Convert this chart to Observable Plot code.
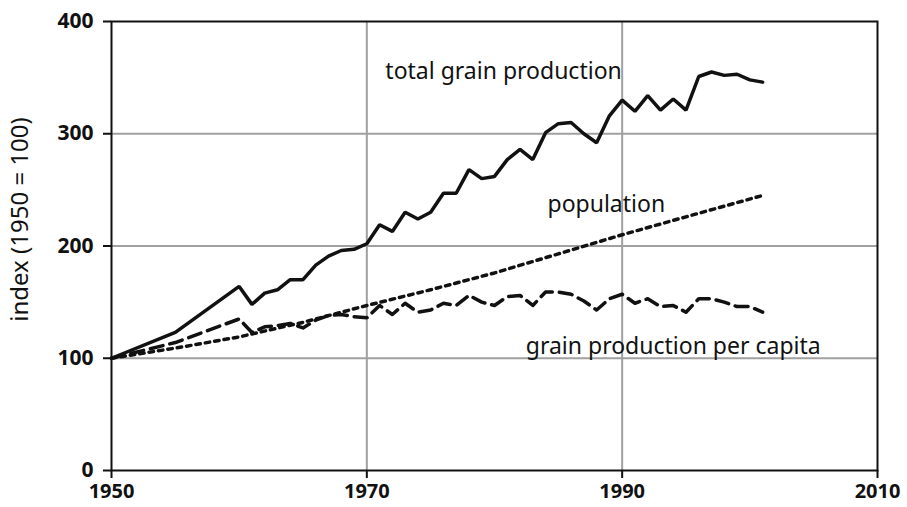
<!DOCTYPE html>
<html>
<head>
<meta charset="utf-8">
<script src="https://cdn.jsdelivr.net/npm/d3@7"></script>
<script src="https://cdn.jsdelivr.net/npm/@observablehq/plot@0.6"></script>
<style>
  html, body { margin: 0; padding: 0; background: #fff; }
  #chart svg { display: block; }
</style>
</head>
<body>
<div id="chart"></div>
<script>
// ---- data ----
const grainYears = [1950, 1955, 1960, 1961, 1962, 1963, 1964, 1965, 1966, 1967, 1968, 1969, 1970,
  1971, 1972, 1973, 1974, 1975, 1976, 1977, 1978, 1979, 1980, 1981, 1982, 1983, 1984, 1985,
  1986, 1987, 1988, 1989, 1990, 1991, 1992, 1993, 1994, 1995, 1996, 1997, 1998, 1999, 2000, 2001];
const totalGrain = [100, 123, 164, 148, 158, 161, 170, 170, 183, 191, 196, 197, 202,
  219, 213, 230, 224, 230, 247, 247, 268, 260, 262, 277, 286, 277, 301, 309,
  310, 300, 292, 316, 330, 320, 334, 321, 331, 321, 351, 355, 352, 353, 348, 346];
const perCapita = [100, 114, 135, 123, 128, 129, 131, 127, 134, 138, 139, 137, 136,
  147, 139, 149, 141, 143, 149, 147, 156, 150, 147, 155, 156, 147, 159, 159,
  157, 151, 143, 153, 157, 149, 153, 146, 147, 141, 153, 153, 150, 146, 146, 141];
const popYears = [1950, 1955, 1960, 1965, 1970, 1975, 1980, 1985, 1990, 1995, 2001];
const population = [100, 109, 119, 132, 147, 161, 176, 193, 210, 226, 245];

const xTicks = [1950, 1970, 1990, 2010];
const yTicks = [0, 100, 200, 300, 400];
const gridX = [1970, 1990];
const gridY = [100, 200, 300];

const seriesLabels = ["total grain production", "population", "grain production per capita"];
const yAxisLabel = "index (1950 = 100)";

// ---- tables ----
const grainData = grainYears.map((y, i) => ({year: y, value: totalGrain[i]}));
const capitaData = grainYears.map((y, i) => ({year: y, value: perCapita[i]}));
const popData = popYears.map((y, i) => ({year: y, value: population[i]}));
const labelData = [
  {text: seriesLabels[0], year: 1971.45, value: 355},
  {text: seriesLabels[1], year: 1984.15, value: 237},
  {text: seriesLabels[2], year: 1982.45, value: 110.5}
];

const font = "'Noto Sans', 'Open Sans', sans-serif";

const chart = Plot.plot({
  width: 907,
  height: 507,
  marginLeft: 111,
  marginRight: 30,
  marginTop: 21,
  marginBottom: 37,
  style: {fontFamily: font, background: "#fff", color: "#111"},
  x: {domain: [1950, 2010], type: "linear"},
  y: {domain: [0, 400]},
  marks: [
    Plot.ruleY(gridY, {stroke: "#a0a0a0", strokeWidth: 2}),
    Plot.ruleX(gridX, {stroke: "#a0a0a0", strokeWidth: 2}),
    Plot.line(popData, {x: "year", y: "value", stroke: "#111", strokeWidth: 3.5, strokeDasharray: "4.5,5"}),
    Plot.line(capitaData, {x: "year", y: "value", stroke: "#111", strokeWidth: 3.5, strokeDasharray: "13,7"}),
    Plot.line(grainData, {x: "year", y: "value", stroke: "#111", strokeWidth: 3.5, strokeLinejoin: "miter"}),
    Plot.frame({stroke: "#111", strokeWidth: 2}),
    Plot.axisX({ticks: xTicks, tickFormat: d => String(d), tickSize: 8, tickPadding: 5,
      fontSize: 20, fontWeight: "bold", strokeWidth: 2, label: null}),
    Plot.axisY({ticks: yTicks, tickFormat: d => String(d), tickSize: 8, tickPadding: 10,
      fontSize: 21, fontWeight: "bold", strokeWidth: 2, label: null}),
    Plot.text(labelData, {x: "year", y: "value", text: "text", textAnchor: "start",
      fontSize: 23, fill: "#111"}),
    Plot.text([{text: yAxisLabel, year: 1942.83, value: 223.6}], {x: "year", y: "value", text: "text",
      rotate: -90, fontSize: 24, fill: "#111"})
  ]
});

document.getElementById("chart").appendChild(chart);
</script>
</body>
</html>
